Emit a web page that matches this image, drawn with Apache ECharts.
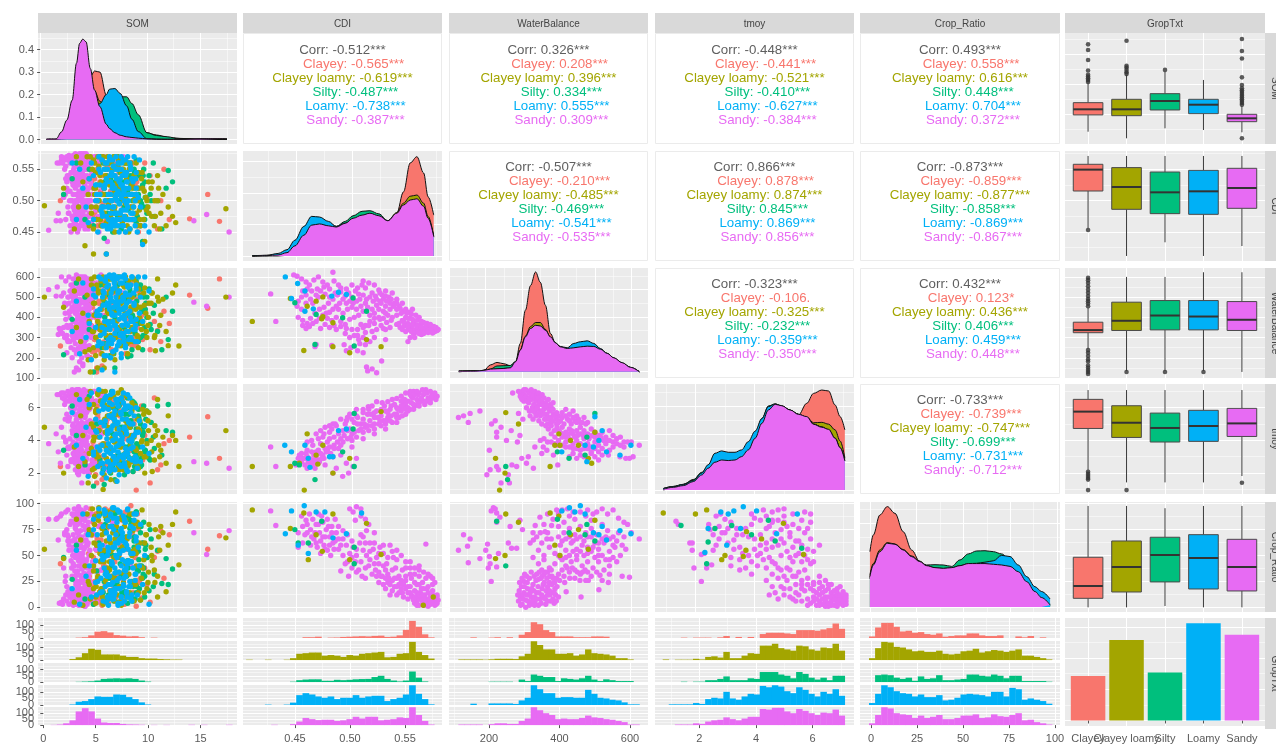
<!DOCTYPE html>
<html><head><meta charset="utf-8">
<style>html,body{margin:0;padding:0;background:#fff;overflow:hidden}#c{width:1276px;height:744px}</style>
<script src="https://cdn.jsdelivr.net/npm/echarts@6/dist/echarts.min.js"></script>
</head><body><div id="c"></div>
<script>
// ---------- labels ----------
const varNames = ['SOM','CDI','WaterBalance','tmoy','Crop_Ratio','GropTxt'];
const groupNames = ['Clayey','Clayey loamy','Silty','Loamy','Sandy'];
const groupColors = ['#F8766D','#A3A500','#00BF7D','#00B0F6','#E76BF3'];

// ---------- correlation texts: overall, then the five groups ----------
const corrSomCdi  = ['-0.512***','-0.565***','-0.619***','-0.487***','-0.738***','-0.387***'];
const corrSomWb   = ['0.326***','0.208***','0.396***','0.334***','0.555***','0.309***'];
const corrSomTmoy = ['-0.448***','-0.441***','-0.521***','-0.410***','-0.627***','-0.384***'];
const corrSomCrop = ['0.493***','0.558***','0.616***','0.448***','0.704***','0.372***'];
const corrCdiWb   = ['-0.507***','-0.210***','-0.485***','-0.469***','-0.541***','-0.535***'];
const corrCdiTmoy = ['0.866***','0.878***','0.874***','0.845***','0.869***','0.856***'];
const corrCdiCrop = ['-0.873***','-0.859***','-0.877***','-0.858***','-0.869***','-0.867***'];
const corrWbTmoy  = ['-0.323***','-0.106.','-0.325***','-0.232***','-0.359***','-0.350***'];
const corrWbCrop  = ['0.432***','0.123*','0.436***','0.406***','0.459***','0.448***'];
const corrTmoyCrop= ['-0.733***','-0.739***','-0.747***','-0.699***','-0.731***','-0.712***'];

// ---------- density curves ----------
const densSomX = [.6,1.5,2,2.5,3,3.4,3.7,4,4.3,4.7,5.1,5.6,6.2,6.5,7,7.5,8.1,8.6,9.2,10,10.9,11.9,13.1,15,17.5];
const densSomClayey = [0,0,.01,.02,.05,.1,.15,.2,.23,.279,.305,.3,.197,.13,.09,.08,.06,.05,.03,.01,.004,.002,.001,.004,.003];
const densSomCL = [0,0,.01,.02,.04,.08,.12,.18,.22,.257,.215,.17,.13,.12,.11,.1,.08,.07,.05,.03,.02,.01,.005,.002,.001];
const densSomSilty = [0,0,0,.005,.01,.02,.03,.05,.07,.09,.11,.13,.15,.16,.175,.19,.19,.16,.11,.03,.018,.012,.002,.002,.001];
const densSomLoamy = [0,0,.005,.01,.02,.04,.06,.08,.1,.12,.14,.16,.2,.224,.227,.205,.15,.09,.035,.004,.002,.001,.001,0,0];
const densSomSandy = [.003,.003,.034,.086,.175,.339,.428,.447,.435,.316,.22,.146,.068,.049,.03,.019,.012,.009,.006,.003,.001,.001,.001,.003,.003];

const densCdiX = [.411,.424,.434,.442,.449,.457,.464,.471,.479,.486,.494,.501,.509,.516,.524,.532,.54,.546,.552,.558,.564,.568,.573];
const densCdiClayey = [0,0,0,.1,.6,1.5,2.2,3,3.5,3.8,4,4.5,5,5.5,5.8,5.4,6.8,10.2,14.8,15.8,13.2,9.4,6.5];
const densCdiCL = [.05,.1,.2,.5,1.6,3.4,4.9,5.3,5,4.6,5.2,6,6.5,6.7,6.3,5.6,6.9,8.4,9.5,9.7,8.4,6.3,3.2];
const densCdiSilty = [0,.05,.2,.6,1.8,3.5,5,5.6,5.3,4.7,5.5,6.4,7.1,7.2,6.7,5.6,6.6,7.9,8.7,9,7.7,5.8,3];
const densCdiLoamy = [0,.1,.4,1,2.5,4.7,6.3,6.2,5.5,4.7,5.2,5.9,6.4,6.7,6.3,5.5,6.6,7.9,8.6,8.9,7.6,5.7,3];
const densCdiSandy = [0,.05,.16,.53,1.6,3.3,4.9,5.1,4.8,4.6,5.2,6,6.5,6.8,6.4,5.6,6.8,8.1,8.9,9.1,7.9,6,3.1];

const densWbX = [126,172,195,213,231,250,268,282,295,309,323,337,350,364,378,392,405,424,442,460,479,497,515,534,552,575,598,622];
const densWbClayey = [0,.05,.1,.5,.68,.58,.44,.73,2.07,4.5,6.3,7.3,6.55,4.86,2.79,2.07,1.75,1.5,1.2,1,.8,.7,.6,.5,.4,.3,.2,0];
const densWbCL = [.05,.05,.1,.15,.2,.25,.3,.7,1.6,2.6,3.3,3.6,3.6,3.1,2.5,2.1,1.8,1.65,1.7,1.8,1.8,1.8,1.6,1.3,1,.6,.3,0];
const densWbSilty = [.05,.05,.1,.2,.42,.44,.46,.75,1.5,2.5,3.1,3.35,3.3,3,2.5,2.1,1.8,1.7,1.75,1.9,1.9,1.85,1.6,1.3,1,.6,.3,0];
const densWbLoamy = [0,.05,.1,.15,.2,.24,.28,.7,1.55,2.5,3.1,3.35,3.3,3,2.5,2.1,1.85,1.75,2.07,2.19,2.26,2.07,1.7,1.35,1,.65,.32,0];
const densWbSandy = [.05,.05,.1,.19,.22,.24,.29,.73,1.58,2.55,3.16,3.4,3.35,3.04,2.55,2.11,1.82,1.7,1.75,1.82,1.87,1.85,1.65,1.34,1.02,.66,.32,0];

const densTmoyX = [.91,1.25,1.59,1.93,2.21,2.43,2.66,2.89,3.11,3.34,3.56,3.79,4.02,4.25,4.47,4.7,4.92,5.21,5.49,5.77,6,6.28,6.51,6.73,6.9,7.06];
const densTmoyClayey = [0,.1,.2,.4,.8,1.2,1.6,1.8,1.9,2,2.2,2.6,3.3,4.2,5,5.4,5.3,5.4,5.36,6.19,6.9,7.14,7.07,6.07,5.24,4.29];
const densTmoyCL = [.1,.25,.4,.75,1.2,1.65,2,2.2,2.2,2.2,2.4,2.9,3.7,4.8,5.7,6.1,6,5.7,5.4,5.2,4.8,4.83,4.7,4.29,3.5,2.3];
const densTmoySilty = [.1,.25,.4,.72,1.26,1.7,2.1,2.3,2.4,2.5,2.6,3,3.95,5.1,6,6.15,6,5.7,5.4,5.2,4.7,4.5,4.3,3.7,3,2.2];
const densTmoyLoamy = [.1,.22,.38,.68,1.2,1.8,2.62,2.79,2.69,2.69,2.86,3.45,4.2,5.1,5.95,6.14,6,5.7,5.4,5.2,4.7,4.5,4.3,3.7,3,2.1];
const densTmoySandy = [.05,.19,.31,.6,1.07,1.55,1.98,2.14,2.1,2.14,2.38,2.86,3.69,4.76,5.71,6.12,6.02,5.71,5.4,5.24,4.69,4.48,4.33,3.69,3.02,2.07];

const densCropX = [0,1.8,5.3,9.3,13.4,17.8,22.3,26.7,30.3,34.8,39.2,43.7,48.1,52.6,57,61.5,66,70.4,74.9,79.3,83.8,88.2,91.8,96.3];
const densCropClayey = [3.95,5.14,6.57,7.17,6.69,5.38,4.07,3.24,2.95,2.7,2.6,2.5,2.4,2.3,2.2,2.2,2.1,2,1.9,1.7,1.3,.9,.5,.1];
const densCropCL = [2.3,3.1,4.07,4.6,4.5,4.1,3.65,3.28,2.9,2.7,2.7,2.75,2.9,3,3,3,3,2.95,2.85,2.5,1.8,1.1,.65,.12];
const densCropSilty = [2,2.9,3.8,4.4,4.4,4,3.6,3.2,3,3.02,3,2.9,3.36,3.79,4,4.02,3.95,3.79,3.36,2.5,1.9,1.15,.75,.2];
const densCropLoamy = [2.1,2.95,3.9,4.5,4.45,4.05,3.6,3.2,2.95,2.8,2.75,2.8,2.95,3.1,3.12,3.2,3.3,3.69,3.6,3,2.17,1.45,1.1,.57];
const densCropSandy = [2.17,3,3.95,4.55,4.48,4.07,3.6,3.24,2.95,2.81,2.76,2.81,2.95,3.1,3.1,3.1,3.05,3,2.9,2.52,1.81,1.1,.67,.14];

// ---------- per-sample values for the SOM column ----------
const somSandy = [.8,1.5,1.6,1.7,1.8,1.9,2,2,2.1,2.2, 2.2,2.3,2.4,2.4,2.5,2.5,2.6,2.6,2.7,2.7, 2.8,2.8,2.9,2.9,3,3,3,3.1,3.1,3.1, 3.2,3.2,3.2,3.3,3.3,3.3,3.3,3.4,3.4,3.4, 3.4,3.5,3.5,3.5,3.5,3.6,3.6,3.6,3.6,3.7, 3.7,3.7,3.7,3.8,3.8,3.8,3.8,3.9,3.9,3.9, 3.9,4,4,4,4,4.1,4.1,4.1,4.2,4.2, 4.2,4.3,4.3,4.3,4.4,4.4,4.4,4.5,4.5,4.5, 4.6,4.6,4.7,4.7,4.8,4.8,4.9,5,5.1,5.2, 5.3,5.5,5.7,6,6.3,6.8,7.2,7.8,8.5,14.4, 15.6,17.7,
 2.3,2.5,2.7,2.8,2.9,3,3,3.1,3.1,3.2, 3.2,3.3,3.3,3.3,3.4,3.4,3.4,3.5,3.5,3.5, 3.5,3.6,3.6,3.6,3.7,3.7,3.7,3.7,3.8,3.8, 3.8,3.8,3.9,3.9,3.9,3.9,4,4,4,4, 4,4.1,4.1,4.1,4.1,4.2,4.2,4.2,4.2,4.3, 4.3,4.3,4.4,4.4,4.4,4.5,4.5,4.6,4.6,4.7, 2.4,2.6,2.9,3.2,3.6,3.9,4.2,4.5,4.8,5, 3.1,3.4,3.7,4,4.3,4.6,4.9,5.1,5.4,5.8,
 2.35,2.65,2.85,3.05,3.15,3.25,3.35,3.45,3.55,3.65, 3.75,3.85,3.95,4.05,4.15,4.25,4.35,4.45,4.55,4.65, 2.55,2.75,2.95,3.15,3.35,3.55,3.75,3.95,4.15,4.35, 3.05,3.25,3.45,3.65,3.85,4.05,4.25,4.45,4.65,4.85, 3.1,3.3,3.5,3.7,3.9,4.1,4.3,4.5,4.7,4.9];
const cdiSandy = [.453,.468,.56,.48,.56,.468,.565,.57,.56,.568, .505,.565,.47,.555,.57,.52,.565,.49,.572,.54, .46,.56,.57,.5,.53,.565,.475,.572,.51,.49, .57,.465,.545,.565,.5,.52,.48,.573,.46,.535, .495,.56,.51,.57,.47,.572,.525,.485,.455,.565, .5,.545,.47,.573,.515,.49,.555,.57,.465,.53, .505,.565,.48,.52,.572,.555,.5,.46,.57,.53, .485,.56,.51,.47,.572,.495,.54,.565,.455,.52, .57,.48,.55,.5,.57,.465,.56,.52,.57,.485, .565,.45,.56,.57,.435,.55,.565,.57,.56,.468, .478,.45,
 .55,.53,.48,.515,.45,.545,.5,.53,.475,.555, .49,.54,.465,.575,.51,.47,.555,.53,.485,.565, .45,.545,.505,.56,.49,.535,.475,.575,.515,.46, .545,.56,.485,.54,.51,.575,.47,.535,.55,.49, .56,.51,.475,.54,.575,.495,.525,.455,.55,.47, .535,.575,.515,.465,.55,.5,.57,.475,.535,.56, .535,.515,.545,.485,.54,.51,.55,.475,.525,.545, .525,.475,.545,.495,.56,.53,.51,.545,.475,.52,
 .51,.48,.535,.47,.55,.495,.525,.46,.545,.515, .48,.555,.5,.465,.54,.52,.49,.555,.475,.51, .54,.5,.46,.525,.555,.48,.51,.545,.47,.5, .565,.49,.53,.46,.55,.515,.475,.535,.5,.545, .525,.47,.5,.54,.485,.56,.46,.51,.53,.49];
const wbSandy = [537,505,550,315,345,335,600,505,320,350, 520,300,580,460,310,225,500,350,600,470, 400,530,560,250,440,340,200,590,480,290, 380,520,130,300,570,420,510,610,350,150, 470,540,240,390,590,330,450,520,140,570, 410,300,490,600,260,370,530,200,440,560, 330,480,580,170,390,510,290,550,420,240, 600,460,340,530,210,570,400,490,310,590, 440,260,550,360,580,300,480,520,340,430, 570,400,610,540,280,450,380,520,480,475, 455,500,
 470,360,420,280,530,310,450,380,560,240, 330,430,270,500,370,580,220,410,540,300, 470,360,600,250,440,320,520,180,390,560, 280,470,350,540,230,410,600,300,480,370, 160,520,440,330,570,260,400,500,350,590, 290,450,370,550,210,420,320,510,380,460, 390,280,430,340,520,310,470,360,410,500, 300,440,350,540,390,460,320,520,370,410,
 420,500,360,540,290,460,330,580,400,310, 520,370,440,240,560,300,480,340,410,530, 290,430,510,350,470,320,550,390,280,450, 500,340,420,560,270,480,360,440,320,400, 310,460,350,520,410,300,570,380,490,340];
const tmoySandy = [3.8,4.4,6.8,3.3,6.8,2.6,6.9,4.8,6.6,6.9, 4.2,6.5,3.9,6.7,6.4,3.1,7,2.4,6.8,5.2, 4.1,6.6,6.9,2.7,5.8,7.1,3.7,6.7,4.5,3.2, 6.9,3.5,5.6,7,2.2,4.8,6.3,7.1,2.9,5.3, 3.8,6.8,4.3,6.4,2,7.1,5,3.4,1.9,6.9, 2.6,5.7,4.1,7,4.6,3.6,6.2,6.8,1.4,5.1, 2.3,7,3.9,4.9,6.6,6.3,3,2.1,6.9,5.4, 4.4,6.5,2.8,3.7,7,4.2,5.8,6.7,2,5.1, 6.8,3.3,6,4.7,6.6,2.5,6.3,4.5,7,3.6, 6.4,2.4,6.7,6.9,2.2,5.5,6.2,6.6,5.9,2.7, 2.6,2.3,
 6.2,5.6,3.5,6.4,2.8,6.7,4.6,3.9,6.9,5.9, 3.1,6.1,4.5,2.6,6.6,3.6,5.2,6.9,2.4,4.7, 6.3,3.3,5.6,7.1,2.1,4.4,6.7,3,5.4,3.8, 6.5,2.7,4.9,7,3.4,5.8,6.1,4.2,2.3,6.8, 5,3.1,6.4,4.5,7.1,2.9,5.5,3.7,6.6,4, 2.5,6.2,5.1,3.4,6.9,4.6,2.2,5.9,3.2,6.7, 4,5.2,3.6,6,4.8,3.1,5.5,4.2,6.2,3.3, 5,2.8,4.4,5.7,3.8,6.3,4.9,2.6,5.2,4.4,
 5.3,3.6,6,4.4,2.9,6.5,3.4,5.6,4.1,6.2, 2.7,5,3.8,6.6,4.3,3.1,5.7,2.4,6.3,4.6, 3.5,5.4,2.8,6.1,4.2,3.2,5.8,4.7,6.8,2.9, 4.9,6.4,3.3,5.5,2.6,4.1,6,3.7,5.2,2.8, 6.7,4.3,3.4,5.9,2.5,5,3.9,6.2,4.5,3.2];
const cropSandy = [85,85,86,65,4,88,90,5,3,38, 8,70,12,92,6,75,15,94,3,60, 10,80,45,18,90,5,55,12,70,2, 40,95,8,3,78,30,14,88,50,6, 62,20,92,11,35,2,72,16,97,8, 48,25,82,6,58,13,90,3,28,68, 10,38,85,4,52,18,92,7,75,22, 1,44,14,78,9,60,3,30,88,12, 50,6,70,24,35,90,15,42,10,56, 5,78,36,60,8,82,50,26,40,72, 51,74,
 72,20,55,10,83,30,64,5,42,90, 16,76,26,48,7,88,34,58,14,80, 3,40,68,22,94,11,52,31,74,2, 60,18,86,37,4,66,24,92,46,12, 79,28,9,56,33,84,17,44,1,70, 21,96,38,13,62,6,82,27,50,15, 30,64,10,82,45,25,58,18,72,38, 8,52,85,28,65,12,44,70,34,55,
 25,68,12,50,82,35,6,74,20,58, 40,90,16,64,28,8,46,78,33,55, 70,14,38,88,22,60,4,48,84,30, 10,66,24,52,94,18,42,76,8,36, 58,26,72,12,44,86,20,62,34,6];

const somClayey = [1.9,3.5,3.9,4.2,4.4,4.6,4.7,4.8,4.9,5, 5,5.1,5.2,5.2,5.3,5.4,5.5,5.6,5.7,5.8, 6,6.1,6.3,6.5,6.7,6.9,7.2,7.5,7.8,8, 8.2,8.5,8.8,9,9.2,9.5,9.8,10,10.3,10.7, 11,11.3,11.6,12.1,14,15.7,16.8,
 4.5,4.7,4.9,5,5.1,5.2,5.3,5.4,5.5,5.6, 5.7,5.8,5.9,6,6.2,6.4,6.6,6.8,7,7.1, 7.3,7.5,7.7,7.9,8.1,8.3,8.5,8.7,8.9,9.1, 9.3,9.6,4.8,5.5,6.1,6.9,7.4,8,8.6,9.4,
 4.55,4.95,5.15,5.35,5.65,5.95,6.25,6.55,6.85,7.15, 7.45,7.85,8.25,8.65,9.05];
const cdiClayey = [.5,.56,.47,.55,.51,.57,.49,.53,.46,.565, .52,.48,.57,.5,.545,.46,.56,.53,.49,.57, .51,.475,.555,.5,.54,.465,.57,.52,.49,.45, .53,.56,.47,.51,.45,.54,.56,.505,.54,.5, .455,.5,.55,.47,.471,.51,.467,
 .52,.5,.545,.475,.535,.51,.56,.485,.55,.525, .465,.54,.495,.56,.47,.55,.515,.48,.56,.5, .535,.46,.55,.515,.47,.54,.49,.56,.525,.46, .5,.52,.54,.5,.53,.48,.545,.515,.47,.49,
 .5,.535,.475,.55,.515,.465,.54,.49,.56,.525, .48,.545,.51,.47,.53];
const wbClayey = [258,320,480,250,400,540,200,360,450,300, 570,230,420,510,130,380,470,340,560,160, 280,410,520,350,240,440,590,300,500,220, 400,330,450,260,530,410,345,470,240,380, 335,280,430,370,510,445,590,
 330,470,230,540,290,400,150,350,480,310, 220,440,370,560,280,500,200,420,340,590, 260,450,330,510,220,390,570,300,470,350, 530,290,410,240,380,520,310,450,260,400,
 390,300,510,250,440,340,560,280,470,380, 520,310,430,350,490];
const tmoyClayey = [2.4,5.5,6.6,3.2,6.9,2,4.6,6.2,3.6,5.1, 7,2.9,4.2,6.4,1.4,5.6,3.3,6.7,4.8,1.6, 6.1,3.8,5.3,2.6,6.7,4.4,3,5.8,2.2,4.1, 6.6,3.4,5,.96,2.5,6.1,4.3,3.2,1.4,6.6, 2.2,2.5,3.8,4,4.2,5.45,2.9,
 4.9,6.8,2.6,4.3,6.3,1.9,3.4,5.4,2.8,7, 4.5,3,6.1,1.8,5.1,3.5,6.6,2.4,4.2,5.7, 3.1,6.2,2.5,4.7,6.8,3.4,5.2,2.1,4.4,3.7, 5.9,2.8,6.4,4.7,2.3,5.3,3.9,6,2.7,4.6,
 5.9,3.9,2.9,6.1,3.7,5,2.5,4.5,6.4,3, 5.5,2.7,4.1,5.2,3.3];
const cropClayey = [42,12,85,5,60,30,95,18,70,3, 48,25,90,8,55,35,78,15,65,2, 40,22,88,50,10,72,30,60,6,92, 45,98,7,1,75,9,38,22,5,48, 54,74,28,70,83,56,69,
 32,8,70,20,88,45,12,62,28,5, 80,36,15,52,72,4,94,26,44,10, 66,20,84,3,56,32,76,14,48,90, 24,62,38,7,95,18,50,34,68,28,
 52,82,24,66,10,40,76,16,58,34, 86,6,44,70,26];

const somCL = [.4,2.2,3.2,3.4,3.6,3.8,4,4.2,4.4,4.5, 4.6,4.7,4.8,4.9,5,5,5.1,5.2,5.3,5.4, 5.5,5.6,5.7,5.8,5.9,6,6.1,6.2,6.3,6.4, 6.5,6.6,6.7,6.8,6.9,7,7.2,7.4,7.6,7.8, 8,8.2,8.4,8.6,8.8,9,9.2,9.4,9.6,9.8, 10,10.2,10.5,10.8,11,11.2,11.5,11.8,12,12.4, 12.7,13,17.4,
 4.6,4.8,5,5.1,5.2,5.3,5.4,5.5,5.6,5.7, 5.8,5.9,6,6,6.1,6.2,6.3,6.4,6.5,6.6, 6.7,6.8,6.9,7,7.1,7.2,7.3,7.4,7.5,7.6, 7.7,7.8,7.9,8,8.1,8.2,8.3,8.4,8.5,8.6, 8.7,8.8,8.9,9,9.1,9.2,9.3,9.5,9.7,9.9, 10.1,10.4,10.7,11,11.3,6.5,7,7.5,8,8.5,
 5.05,5.25,5.45,5.65,5.85,6.05,6.15,6.35,6.55,6.75, 6.95,7.15,7.35,7.55,7.75,7.95,8.15,8.35,8.55,8.75, 8.95,9.15,9.35,9.55,9.75,9.95,10.15,10.45,10.75,11.1];
const cdiCL = [.492,.52,.455,.57,.49,.56,.53,.428,.57,.51, .46,.57,.49,.55,.455,.415,.56,.52,.47,.57, .5,.54,.46,.565,.51,.48,.55,.415,.57,.495, .525,.46,.56,.485,.54,.45,.57,.51,.47,.55, .495,.56,.455,.53,.5,.48,.545,.46,.52,.435, .5,.48,.53,.475,.5,.455,.51,.46,.49,.475, .465,.502,.487,
 .535,.48,.565,.51,.545,.47,.5,.555,.485,.53, .46,.57,.52,.48,.54,.465,.56,.5,.53,.475, .55,.51,.57,.49,.46,.53,.555,.48,.52,.545, .465,.5,.56,.475,.535,.51,.45,.55,.49,.525, .47,.54,.505,.56,.46,.52,.485,.535,.47,.505, .49,.52,.46,.54,.48,.5,.515,.47,.54,.56,
 .52,.49,.545,.47,.51,.56,.5,.535,.46,.55, .485,.525,.565,.475,.54,.505,.46,.55,.52,.49, .535,.5,.47,.545,.515,.485,.53,.475,.5,.52];
const wbCL = [500,450,530,350,590,280,420,230,510,190, 380,130,560,330,470,250,600,300,540,150, 410,340,580,220,490,150,560,310,430,260, 520,380,300,590,450,190,540,350,470,320, 600,410,280,500,340,570,250,450,380,545, 300,470,520,235,590,360,490,330,260,520, 560,258,500,
 240,590,330,470,210,560,380,280,530,440, 320,600,190,500,360,590,270,420,540,310, 480,220,380,570,300,460,340,600,260,510, 400,290,550,360,470,220,580,330,430,500, 280,590,370,460,310,540,400,340,520,420, 360,470,300,500,410,590,420,500,330,450,
 410,300,520,360,460,250,570,340,440,290, 530,380,480,310,560,420,270,500,350,590, 440,300,510,370,460,330,400,520,310,480];
const tmoyCL = [4.8,2,3.6,6.8,2.4,5.5,4.3,2.7,6.5,1.4, 3.2,7,5,2.2,6.2,4,1.8,5.8,3,6.9, 4.6,2.5,6.4,3.7,1,5.2,7,2.9,4.4,6, 3.4,1.6,5.6,2.7,6.7,3.9,4.9,2.2,7.1,3.1, 5.3,2.4,4.1,6.3,3.5,2.6,4.7,3.2,5.9,2, 3.8,5.7,2.1,4.3,6.5,3,4.2,2.6,5.5,4.3, 4,2.4,4.6,
 6,3.5,4.8,2.3,5.7,3.3,6.8,4.2,2.6,5.1, 7,3.8,1.9,6.2,4.5,2.9,5.5,3.4,6.6,2.1, 4.1,6.1,3,5,1.5,4.7,6.9,2.8,5.6,3.6, 6.4,2.2,4.4,5.2,3.1,6.7,2.5,4.8,3.7,5.8, 2.9,4.2,6.1,3.4,5.3,2.3,4.6,3.9,5.6,3, 5.2,4,2.8,4.6,3.4,6.3,5,3.6,4.4,2.7,
 4.2,5.9,3,6.4,2.5,5.3,3.6,4.8,6.1,2.8, 3.9,5.6,2.4,4.5,6.7,3.2,5,2.7,4.3,6, 3.5,2.6,5.2,4,3,5.8,4.6,3.3,4.9,3.7];
const cropCL = [56,47,5,85,12,65,2,40,90,25, 75,8,50,95,18,35,80,4,60,28, 92,15,45,70,3,55,88,22,38,78, 10,62,30,95,48,6,72,20,85,33, 42,68,14,90,25,52,78,7,38,62, 18,80,45,75,30,55,72,15,60,80, 92,41,67,
 22,70,40,88,10,60,30,96,52,18, 76,4,44,92,26,64,8,84,36,54, 16,72,94,28,48,12,66,34,86,2, 58,24,78,42,10,68,32,90,20,50, 74,6,56,40,82,14,62,28,46,70, 24,58,36,10,78,44,66,20,84,52,
 62,20,84,44,10,72,36,92,16,56, 28,78,48,6,88,32,66,12,54,80, 22,60,40,94,14,70,34,50,24,68];

const somSilty = [2.2,3,3.4,4.2,4.6,5,5.3,5.6,5.8,6, 6.2,6.4,6.5,6.7,6.8,7,7.1,7.3,7.4,7.6, 7.7,7.9,8,8.2,8.3,8.5,8.6,8.8,9,9.2, 9.4,9.6,9.8,10,10.3,10.6,11,11.4,11.8,12, 12.4,
 5.5,5.9,6.1,6.3,6.6,6.9,7,7.2,7.4,7.5, 7.7,7.8,8,8.1,8.2,8.4,8.5,8.7,8.8,8.9, 9,9.1,9.2,9.3,9.4,9.5,9.6,9.7,9.8,9.9, 10,10.2,10.4,10.7,6,6.8,7.6,8.3,9,9.7,
 6.05,6.45,6.85,7.25,7.65,7.95,8.25,8.45,8.65,8.85, 9.05,9.25,9.45,9.65,9.85];
const cdiSilty = [.51,.535,.56,.47,.55,.46,.525,.57,.49,.44, .54,.47,.56,.5,.45,.53,.48,.57,.515,.455, .545,.49,.505,.56,.47,.525,.51,.55,.465,.54, .5,.435,.53,.49,.51,.56,.5,.455,.52,.548, .53,
 .5,.56,.51,.48,.535,.57,.46,.52,.5,.545, .475,.53,.56,.49,.515,.455,.54,.48,.52,.5, .565,.475,.51,.54,.46,.495,.525,.55,.47,.505, .48,.54,.5,.475,.52,.465,.5,.535,.51,.49,
 .53,.49,.55,.475,.51,.56,.485,.535,.5,.545, .47,.52,.49,.54,.505];
const wbSilty = [215,390,570,500,340,130,420,560,250,480, 300,590,210,380,530,150,440,600,320,260, 490,350,570,205,410,520,240,460,380,560, 300,430,310,500,365,420,330,240,500,290, 430,
 360,520,270,440,590,220,400,500,340,270, 440,600,300,490,360,540,210,400,510,320, 580,450,280,370,560,430,240,500,350,470, 400,540,340,460,560,420,500,300,370,440,
 400,510,300,560,360,450,280,520,410,330, 480,380,540,310,440];
const tmoySilty = [3.4,6.1,4.3,2.5,6.7,1.2,5,2.8,6.4,1.3, 3.7,5.5,2.3,7,4.4,1.6,5.9,3.2,6.3,2.6, 4.8,1.9,3.6,6,2.7,5.2,4,6.3,3,5.5, 2.4,4.4,3.3,5.8,2.8,4.2,6.1,3.1,4.6,6.2, 4.5,
 4.6,2.2,6.6,3.5,2,5.4,4,2.9,6.1,4.8, 3.1,5.7,2.4,4.4,6.6,3.7,5,2.1,3.3,6.2, 4.7,2.7,5.9,3.6,5,2.5,4.3,6.1,3.4,5.3, 4,2.9,5.1,3.5,6.2,2.4,4.6,5.6,3.1,4.8,
 5,3.3,6,2.6,4.3,5.6,3,4.8,6.4,2.4, 3.8,5.4,2.9,4.5,3.4];
const cropSilty = [48,27,60,8,72,3,35,90,18,52, 85,12,65,40,95,22,75,5,55,30, 88,15,68,45,10,80,25,58,92,35, 7,62,30,48,75,20,55,23,47,22, 37,
 62,14,80,34,52,6,90,24,70,42, 12,58,86,30,4,76,44,20,64,8, 92,36,54,18,72,40,28,82,10,60, 48,16,66,32,25,78,56,88,14,38,
 74,28,50,92,14,60,38,84,6,68, 20,46,78,32,56];

const somLoamy = [3,3.4,3.7,4,4.3,4.5,4.8,5,5.2,5.4, 5.5,5.6,5.8,5.9,6,6.1,6.2,6.3,6.4,6.5, 6.6,6.6,6.7,6.8,6.8,6.9,7,7,7.1,7.2, 7.2,7.3,7.4,7.4,7.5,7.6,7.6,7.7,7.8,7.8, 7.9,8,8,8.1,8.2,8.3,8.4,8.5,8.6,8.7, 8.8,8.9,9,9.1,9.2,9.3,9.4,9.6,9.8,10.2,
 4.6,5,5.3,5.5,5.7,5.8,5.9,6,6,6.1, 6.2,6.2,6.3,6.3,6.4,6.4,6.5,6.5,6.6,6.6, 6.7,6.7,6.8,6.8,6.9,6.9,7,7,7.1,7.1, 7.2,7.2,7.3,7.3,7.4,7.4,7.5,7.5,7.6,7.6, 7.7,7.7,7.8,7.8,7.9,7.9,8,8,8.1,8.1, 8.2,8.2,8.3,8.4,8.5,8.6,8.7,8.8,8.9,9, 5.6,6.1,6.6,7,7.5,8,8.5,9,5.2,5.8,
 5.35,5.65,5.85,6.05,6.25,6.35,6.45,6.55,6.65,6.75, 6.85,6.95,7.05,7.15,7.25,7.35,7.45,7.55,7.65,7.75, 7.85,7.95,8.05,8.15,8.25,8.35,8.45,8.55,8.75,8.95];
const cdiLoamy = [.56,.47,.55,.52,.49,.465,.56,.54,.5,.45, .57,.525,.48,.46,.55,.5,.415,.53,.47,.57, .51,.455,.54,.49,.565,.46,.52,.48,.55,.5, .47,.56,.53,.45,.51,.57,.485,.54,.46,.52, .5,.565,.47,.545,.49,.51,.455,.55,.535,.48, .57,.46,.52,.45,.505,.565,.49,.43,.46,.45,
 .535,.47,.51,.55,.485,.565,.46,.52,.49,.56, .475,.535,.455,.55,.51,.49,.565,.46,.53,.48, .545,.5,.47,.525,.555,.49,.465,.54,.51,.57, .48,.55,.46,.515,.56,.495,.47,.535,.55,.505, .46,.525,.485,.565,.51,.475,.54,.45,.53,.495, .57,.47,.52,.56,.48,.51,.53,.47,.5,.545, .51,.46,.5,.54,.48,.52,.47,.51,.525,.49,
 .5,.545,.475,.525,.56,.49,.51,.54,.465,.52, .555,.48,.505,.535,.47,.55,.495,.525,.56,.46, .515,.545,.485,.53,.5,.47,.555,.51,.49,.535];
const wbLoamy = [330,480,220,570,300,410,190,510,350,260, 600,440,140,530,320,580,210,460,370,610, 300,500,420,590,230,360,550,130,470,600, 340,520,390,280,570,440,200,600,320,490, 410,590,260,510,360,550,430,300,600,380, 470,340,560,280,600,420,500,380,600,530,
 370,540,410,280,590,350,460,210,520,340, 600,250,470,380,560,290,440,350,600,200, 480,270,540,380,450,610,320,410,500,240, 590,340,460,530,270,420,600,310,480,220, 570,360,440,300,610,390,520,250,470,330, 550,420,290,510,380,600,340,460,280,540, 410,580,490,360,310,450,560,390,500,270,
 430,310,500,380,550,270,460,340,520,410, 290,570,360,480,260,440,530,320,400,500, 280,450,370,560,330,480,400,290,520,360];
const tmoyLoamy = [5.7,3.7,6.5,2.9,4.8,1.8,6.9,3.3,5.3,2.4, 7.1,4.2,2,5.9,3.1,6.6,1.7,4.6,2.7,5.5, 3.6,6.8,2.2,4.9,7,3.4,5.8,2.6,4.1,6.3, 1.5,5.1,3,6.5,4.4,2.4,5.6,3.8,6.9,2.9, 4.7,6.1,3.2,5.3,2.1,4,6.6,3.5,2.8,5, 4.3,3,6,2.3,4.5,5.2,2.7,3.6,4.9,3.2,
 6.2,3.1,4.5,5.8,2.6,3.7,6.4,4.9,2.3,5.2, 6.7,3.4,4.4,2.7,5.9,3.8,2.1,6.3,4.6,3.2, 5.4,2.5,6.9,4,3,5.6,4.3,2.2,6.5,3.6, 5,2.8,6.1,3.3,4.7,1.9,5.7,3.9,6.6,2.4, 4.2,5.3,3,6.3,2.6,4.8,3.5,5.9,2.2,4.4, 6.8,3.2,5.1,2.9,6,4.1,3.6,5.5,2.7,4.5, 3.4,6.5,2.5,5.2,4,3.1,5.7,2.9,4.6,6.2,
 3.6,5.1,2.6,6,4.1,3.3,5.5,2.3,4.7,6.2, 3,5.3,2.8,4.4,6.5,3.7,2.5,5.7,4,3.1, 5.9,2.4,4.6,3.4,6.1,2.9,5,3.9,4.3,2.7];
const cropLoamy = [18,55,3,90,30,70,10,85,45,25, 95,60,15,78,38,92,5,50,22,68, 88,12,42,96,8,75,33,58,18,82, 48,2,65,28,92,40,10,72,55,20, 85,35,62,15,95,45,25,78,6,52, 90,32,68,12,58,40,80,22,50,3,
 40,75,12,88,28,60,6,48,94,20, 72,34,10,84,54,2,66,30,90,16, 44,78,24,58,8,96,38,14,70,50, 26,86,4,62,34,92,18,54,76,10, 46,68,22,88,36,6,82,30,60,14, 94,42,20,72,52,12,38,84,26,64, 56,32,78,18,66,44,8,90,24,50,
 70,14,46,90,30,58,8,78,22,42, 86,12,62,34,94,18,52,74,4,64, 28,82,38,10,56,68,20,44,76,32];

// ---------- pairs (x,y,x,y,...) read per panel ----------
const cdiWbSandy = [.4274,516,.432,380,.448,610,.451,603,.455,590,.459,575,.462,560,.466,585,.47,600,.474,575,.478,560,.469,540,.464,530,.459,510,.455,500,.452,480,.451,455,.455,440,.459,470,.463,490,.468,510,.472,530,.476,515,.48,540,.484,580,.488,560,.483,623,.452,400,.456,385,.46,370,.463,395,.467,420,.471,440,.475,450,.479,470,.483,490,.487,510,.49,525,.494,505,.497,520,.5,500,.503,530,.506,515,.509,560,.512,545,.515,570,.518,520,.521,505,.524,535,.527,510,.53,530,.533,500,.536,520,.54,490,.538,470,.542,455,.545,470,.548,440,.551,425,.554,440,.557,410,.56,400,.552,395,.548,400,.545,385,.55,370,.555,375,.558,360,.561,365,.564,375,.567,370,.57,350,.573,345,.576,335,.572,330,.568,345,.565,330,.561,340,.558,345,.555,320,.552,300,.55,280,.556,300,.562,315,.566,350,.56,350,.553,350,.547,360,.543,350,.54,365,.535,385,.531,375,.528,395,.524,400,.52,370,.516,380,.512,360,.508,365,.526,360,.534,350,.53,340,.478,395,.482,385,.486,400,.49,380,.494,365,.498,390,.502,400,.506,410,.51,430,.514,450,.518,440,.522,460,.526,470,.53,455,.534,440,.486,340,.49,355,.494,320,.498,300,.502,310,.506,290,.51,300,.507,270,.512,265,.516,280,.52,300,.493,265,.499,250,.505,235,.51,225,.495,235,.513,155,.518,145,.514,135,.522,126,.5265,184,.53,290,.468,266,.467,255,.482,261,
 .55,340,.553,330,.556,335,.559,325,.562,330,.565,345,.568,335,.571,340,.574,330,.577,340,.55,360,.554,365,.558,355,.562,350,.566,360,.57,365,.573,355,.575,350,.56,320,.564,320,.568,325,.572,322,.548,330,.545,340,.542,370,.546,380,.55,395,.554,390,.558,385,.562,380,.553,415,.549,420,.546,430,.543,445,.54,440,.537,455,.534,470,.531,480,.528,490,.525,480,.522,490,.519,480,.516,500,.513,490,.51,510,.507,490,.504,480,.501,470,.498,480,.495,470,.492,490,.489,470,.486,455,.483,440,.48,425,.477,420,.474,410,.471,395,.468,380,.465,370,.462,355,.459,345,.456,360,.476,365,.48,350,.484,360,.472,345,.488,440,.492,420,.496,440,.5,450,.504,440,.508,455,.512,470,.516,410,.52,420,.524,440,.528,430,.532,410,.536,400,.54,410,.544,420,.47,500,.465,470,.46,540,.456,530,.475,550,.48,500,.485,520,.49,545,.495,540,.5,560,.505,545,.51,580,.52,560,.525,520,.53,505,.535,490,.54,470,.53,420,.525,390,.52,395,.515,360,.51,350,.505,340,.5,340,.495,345,.505,310,.512,325,.518,330,.522,340,.528,345];
const cdiWbCL = [.411,380,.445,493,.457,236,.483,255,.498,225,.513,290,.526,255,.46,455,.468,480,.473,393,.474,403,.474,501,.483,373];
const cdiWbSilty = [.449,472,.468,414,.467,266,.4917,398,.502,258,.501,496,.513,430];
const cdiWbLoamy = [.4405,600,.4515,567,.446,493,.458,530,.458,430,.4655,442,.488,524,.482,505,.495,513];

const cdiTmoySandy = [.4274,3.6,.432,2.4,.452,2.9,.455,2.7,.458,2.5,.46,2.3,.462,2.9,.464,3.3,.466,2.6,.468,3,.47,3.4,.472,3.8,.474,4.2,.476,3.5,.478,3.9,.48,4.5,.482,4.7,.484,4.2,.486,4.9,.488,4.4,.49,4.1,.492,4.6,.494,5,.496,5.4,.498,4.7,.5,4.4,.502,5.1,.504,5.5,.506,4.6,.508,5,.51,5.3,.512,4.8,.514,5.6,.516,5.2,.518,4.9,.52,5.4,.522,5.8,.524,5,.526,5.5,.528,5.2,.53,5.8,.532,5.4,.534,5.9,.536,5.1,.538,5.6,.54,6,.542,5.4,.544,5.8,.546,6.2,.548,5.6,.55,6.4,.552,5.9,.554,6.6,.556,6.1,.558,6.5,.56,6.9,.562,6.4,.564,6.8,.566,7.1,.568,6.6,.57,7,.572,6.8,.574,6.6,.576,6.7,.555,7,.56,6.3,.565,6.4,.57,6.5,.567,6.9,.563,7.1,.559,6.8,.553,6.3,.548,6.2,.544,6.4,.54,6.57,.532,6.37,.522,6.37,.5146,6.06,.552,7,.483,5,.498,5.6,.483,3,.5,4,.515,4.6,.53,5,.545,6,.483,2,.4917,1.8,.497,2,.501,2.4,.504,2.9,.495,2.6,.486,2.3,.45,2.5,.453,3.1,.456,2.9,.459,3.2,.462,2.4,.465,2.8,.468,3.3,.471,2.7,.474,3.1,.477,3.3,.48,3.6,.46,3.9,.464,4,.468,4.4,.472,4.6,.476,4.8,.48,4.1,.484,3.7,.488,3.5,.492,3.9,.496,4.1,.504,4.2,.51,4.5,.52,5,.526,4.9,.534,5.2,.54,5.4,.548,5.9,.555,6.2,
 .46,3,.463,2.6,.466,3.1,.469,2.8,.472,3.2,.475,2.9,.478,3.4,.481,3.2,.484,3.5,.487,3.9,.49,3.7,.493,4.3,.496,4.6,.499,4.2,.502,4.5,.505,5,.508,4.7,.511,5,.514,4.9,.517,5.6,.52,5.7,.523,5.4,.526,5.9,.529,6.1,.532,5.7,.535,6.1,.538,6.2,.541,5.9,.544,6.1,.547,6.5,.55,6,.553,6.7,.556,6.8,.559,6.3,.562,6.6,.565,6.9,.568,6.4,.571,6.7,.574,6.9,.55,5.8,.545,5.5,.54,5.6,.535,5.5,.53,5.2,.525,5.2,.52,4.7,.515,5.9,.51,5.7,.505,5.4,.5,5.3,.495,5.2,.49,5.3,.485,5,.48,4.9,.475,4.4,.47,4.1,.465,3.7,.46,3.4,.455,3.2,.452,2.6,.458,2.9,.461,2.7,.464,2.4,.467,2.3,.47,2.6,.473,2.9,.476,2.5,.49,3.1,.5,3.6,.51,4.1,.52,4.4,.53,4.7,.54,5.1,.555,5.9,.56,6.1,.565,6.2,.57,6.3,.575,6.5,.558,7,.552,6.8,.548,6.9,.544,6.7,.536,6.5,.527,6.3,.518,6.1,.51,5.9,.504,5.9];
const cdiTmoyCL = [.411,2.4,.445,2.4,.4574,.96,.46,4.4,.474,3.7,.468,3.1,.483,2,.498,2.9,.526,5.76,.453,2.6,.4695,2.55];
const cdiTmoySilty = [.467,1.6,.449,2.6,.4917,3.3,.502,2.4,.501,4.7,.502,5.65,.453,2.5];
const cdiTmoyLoamy = [.44,3.7,.446,3.3,.458,3.7,.461,2.9,.4625,2.35,.48,3,.488,4.6,.483,3,.495,4.7];

const cdiCropSandy = [.432,79,.4274,93,.452,58,.456,62,.452,72,.456,78,.459,84,.462,90,.465,85,.468,80,.471,72,.474,82,.477,75,.48,68,.483,62,.486,72,.463,60,.466,66,.469,58,.472,52,.475,60,.478,55,.481,50,.484,56,.46,72,.455,88,.458,70,.47,90,.474,68,.478,85,.482,78,.485,85,.488,66,.49,60,.492,74,.498,95,.501,92,.504,97,.508,95,.512,85,.508,88,.503,84,.515,80,.52,72,.513,74,.51,68,.495,60,.498,52,.501,58,.504,50,.507,62,.51,55,.513,50,.516,62,.519,56,.522,48,.525,58,.528,52,.531,42,.534,60,.537,48,.54,55,.49,35,.494,42,.497,30,.5,38,.503,44,.506,36,.509,30,.512,28,.515,40,.518,32,.521,36,.524,42,.527,30,.53,36,.533,28,.536,26,.539,38,.542,30,.545,36,.548,38,.552,44,.556,38,.56,40,.566,61,.53,18,.534,12,.538,20,.542,22,.545,14,.548,26,.55,20,.553,28,.556,16,.558,22,.56,30,.563,24,.566,28,.57,30,.572,22,.55,8,.553,12,.556,4,.559,10,.561,14,.563,6,.565,12,.567,18,.569,8,.571,12,.573,4,.575,8,.577,7,.564,2,.568,1,.572,6,.56,2,.574,10,.566,8,.57,3,.576,4,.562,18,.558,6,.552,20,.546,10,.54,12,.568,14,.558,14,
 .46,80,.463,75,.467,72,.47,80,.473,88,.476,68,.479,78,.482,72,.485,64,.488,56,.464,68,.468,62,.472,64,.476,56,.48,60,.484,66,.488,78,.492,66,.496,70,.5,64,.504,56,.508,70,.512,62,.516,54,.52,62,.524,52,.528,60,.532,48,.536,54,.54,46,.544,50,.548,44,.552,38,.556,32,.56,36,.564,34,.568,32,.572,28,.574,24,.492,50,.496,44,.5,48,.504,34,.508,44,.512,38,.516,46,.52,42,.524,34,.528,40,.532,32,.536,36,.54,28,.544,26,.548,30,.552,32,.556,24,.56,22,.564,18,.568,20,.572,16,.576,12,.554,10,.558,2,.56,8,.562,10,.564,8,.566,4,.568,6,.57,10,.572,12,.574,2,.576,10,.552,14,.55,14,.548,18,.546,22,.544,18,.542,14,.54,20,.538,28,.536,16,.534,22,.532,24,.53,28,.528,22,.526,30,.524,24,.522,30,.556,10,.56,12,.563,12,.567,2,.571,4,.575,3,.565,6,.569,3,.555,7];
const cdiCropCL = [.411,94,.457,91,.445,76,.468,70,.4735,54,.461,46,.483,90,.498,46,.526,51,.513,81,.5637,2,.5726,10];
const cdiCropSilty = [.449,75,.452,62,.461,62,.502,58,.502,42,.473,83];
const cdiCropLoamy = [.4405,71,.446,93,.4574,98,.452,60,.461,52,.468,92,.4758,92,.483,67,.495,71,.5086,91];

const wbTmoySandy = [125,5.4,139,5.5,157,5.65,152,5.1,184,5.8,216,5,226,5.2,230,4.5,230,4.2,242,4.8,257,4,270,4.6,290,5.65,294,4.3,287,3.9,302,5.3,210,3.4,299,2.9,317,3,312,2.6,331,2.3,285,2.4,272,2.5,230,2.4,212,2.2,203,1.9,262,1.9,265,1.4,242,1.4,235,2.2,335,3.6,354,3.2,368,3.4,386,3.1,398,2.5,274,6.9,290,7,295,6.9,300,7,305,6.8,310,7.1,315,7,320,6.9,325,7.1,330,6.9,335,7,340,6.8,345,6.9,350,6.7,355,6.8,298,6.6,305,6.4,312,6.6,318,6.3,325,6.5,332,6.2,340,6.4,347,6.2,353,6.4,360,6.6,365,6.3,372,6.5,378,6.2,385,6.3,312,6,320,5.8,328,6,336,5.7,344,5.9,352,5.7,360,5.9,368,5.6,376,5.8,322,5.5,330,5.3,338,5.5,346,5.2,354,5,362,5.3,370,5,378,5.4,386,5.6,394,5.3,400,5.5,410,5.7,420,5.9,430,5.6,440,5.8,450,5.5,395,5,405,5.2,415,5,425,5.3,435,5,445,5.2,455,5.3,465,5.1,475,5,400,4.6,410,4.8,420,4.5,430,4.7,440,4.4,450,4.6,460,4.8,470,4.6,480,4.4,490,4.7,500,4.5,510,4.3,520,4.5,530,4.2,540,4.6,550,4.3,560,4.1,570,4.2,580,3.9,590,3.9,600,3.9,622,3.7,380,4.4,390,4.2,400,4,410,4.2,420,3.9,430,4.1,440,3.8,450,4,460,3.8,470,4.1,480,3.8,490,3.6,500,3.9,510,3.7,520,3.5,530,3.8,540,3.4,550,3.6,460,3.1,470,3,480,2.9,490,3.2,500,3,510,2.8,520,3.1,430,3,440,3.2,450,2.9,585,2.9,595,2.9,605,3,537,3.1,569,3,
 295,6.7,300,6.5,305,7.1,310,6.7,315,6.4,320,6.6,325,6.8,330,6.7,335,6.5,340,6.6,345,6.6,350,6.4,355,6.2,360,6.1,365,6,370,6.1,375,5.9,380,6,385,5.9,330,5.8,335,6.1,340,6,345,5.6,350,5.5,355,5.8,360,5.6,365,5.3,370,5.4,375,5.3,380,5.1,385,5.2,390,5.5,395,5.7,400,5.1,410,5.4,420,5.5,430,5.2,440,5.4,450,5.1,460,5.1,470,5.4,480,5.1,365,4.9,372,4.7,380,4.9,388,4.6,396,4.8,404,4.5,412,4.4,420,4.2,428,4.4,436,4.6,444,4.2,452,4.3,460,4.4,468,4.3,476,4.2,484,4.1,492,4.3,500,4.2,508,4.1,516,4.2,524,4,532,4,540,4,550,3.9,560,3.8,570,3.7,580,3.6,480,3.5,490,3.3,500,3.5,510,3.3,470,3.5,460,3.4,450,3.5,440,3.5,430,3.6,420,3.6,410,3.7,400,3.7,390,3.8,380,3.9,370,3.9,360,4.1,350,4,358,3.6];
const wbTmoyCL = [255,5.7,290,5,227,2.9,253,2,238,.96,401,4.4,377,2.4,433,4,455,3.7,390,3.7,404,3.7,482,2.9,491,2.6,500,4.5];
const wbTmoySilty = [255,2.4,260,1.6,397,3.3,429,2.9,473,3.1,478,4.2,500,5.65];
const wbTmoyLoamy = [520,4.6,511,4,473,3.7,532,3.3,496,3.6,569,3.1,599,3.7,409,3.3,478,2.7,500,5.45];

const wbCropSandy = [221,96,226,95,215,93,230,91,239,87,230,82,267,78,294,84,301,75,139,70,157,66,150,59,125,55,152,43,184,47,205,61,200,55,210,49,212,42,207,38,230,39,215,25,235,52,262,62,285,57,271,57,336,79,349,87,381,79,322,62,331,65,354,62,363,73,368,66,370,90,385,85,400,90,415,82,430,88,445,85,460,92,475,88,490,84,505,92,520,95,535,90,550,94,565,86,580,82,400,78,415,72,430,76,445,70,460,78,475,72,490,76,505,70,520,80,535,74,550,68,565,72,580,68,622,66,345,55,360,50,375,58,390,52,405,60,420,55,435,62,450,56,465,60,480,52,495,58,510,50,525,62,540,54,555,58,570,50,330,48,345,42,360,46,375,38,390,42,405,48,420,40,435,44,450,46,465,40,480,44,495,38,510,44,525,36,540,40,355,30,370,34,385,28,400,32,415,30,430,34,445,28,460,32,475,26,490,30,505,34,520,26,540,32,575,30,595,29,514,31,537,24,511,17,462,10,421,15,482,26,290,6,295,10,300,3,305,14,310,7,315,18,320,2,325,10,330,22,335,5,340,14,345,27,350,8,355,18,360,32,365,3,370,12,375,24,380,36,385,8,390,18,395,28,298,20,305,25,312,30,318,12,325,34,332,16,338,26,345,2,352,28,358,22,364,34,370,20,376,30,382,14,388,4,300,12,310,0,322,4,334,10,344,20,354,12,366,16,378,6,392,12,
 288,12,292,16,296,2,302,8,306,20,312,12,316,6,322,14,328,6,334,2,340,8,346,14,352,4,358,10,364,8,370,6,376,12,382,22,388,14,394,6,400,10,293,24,300,28,307,32,314,24,320,28,326,18,333,30,340,32,347,34,354,36,361,24,368,28,375,16,382,30,389,24,396,20,403,26,410,36,417,24,424,38,431,28,438,38,445,36,452,34,459,26,466,34,473,36,480,34,400,50,410,46,420,48,430,50,440,54,450,50,460,54,470,50,480,58,490,54,500,48,510,56,520,50,530,46,540,46,550,48,560,44,400,68,410,64,420,66,430,68,440,64,450,66,460,68,470,64,480,68,490,68,500,62,510,62,520,66,530,68,540,66,550,60,560,64,575,60,585,56,590,80,600,72,380,66,370,72,360,80,350,72,340,68,330,72,395,94,410,94,425,95,440,92,480,94,495,90];
const wbCropCL = [255,90,290,82,227,47,253,50,401,88,377,91,433,70,455,75,390,60,404,50,482,56,500,84];
const wbCropSilty = [255,40,230,83,397,85,429,72,473,70,478,80,500,64];
const wbCropLoamy = [520,78,511,70,473,90,532,65,496,72,569,74,599,71,409,93,430,96,445,92,460,98];

const tmoyCropSandy = [1.34,83,1.42,80,1.81,62,1.89,62,1.89,55,2.2,51,1.95,38,2.2,25,2.38,38,2.55,41,2.3,52,2.6,70,2.5,75,2.45,80,2.7,88,2.85,90,3,85,3.1,76,2.9,72,2.8,66,2.7,60,2.6,55,3.1,62,3.3,65,3.5,58,3.4,70,3.7,76,3.9,80,4,86,4.2,84,4.4,88,4.6,92,4.8,94,5,95,4.5,78,4.7,72,4.9,75,5.1,78,5.3,80,3.2,48,3.5,46,3.8,50,4,56,4.2,60,4.4,62,4.6,58,4.9,66,5.2,68,5.5,76,5.7,72,5.9,66,5.6,84,5.9,82,3.7,38,3.9,32,4.1,40,4.3,46,4.5,48,4.7,42,4.9,50,5.1,54,5.3,58,5.5,52,5.7,50,5.9,42,5.1,38,5.3,44,4.6,32,4.8,28,4.4,26,4.6,20,4.9,20,5.1,26,5.3,30,5.5,34,5.7,36,6,44,6.2,60,4.7,14,5,12,5.2,18,5.4,22,5.6,26,5.8,28,6,24,6.2,30,5.3,8,5.5,12,5.7,16,5.9,18,6.1,14,6.3,20,6.5,18,5.6,6,5.8,8,6,10,6.2,6,6.4,10,6.6,14,6.8,18,6.9,20,7,15,6.4,4,6.6,6,6.8,8,7,10,7.1,12,6.1,2,6.3,3,6.5,1,6.7,2,6.9,4,7.1,6,7,2,5.9,4,5.4,14,6.2,12,6.7,11,6.5,22,6.8,12,4.9,36,
 4.5,12,4.8,8,5,18,5.2,10,5.4,6,5.6,18,5.8,2,6,16,6,6,6.1,8,6.2,18,6.3,8,6.4,16,6.4,7,6.5,10,6.5,4,6.6,10,6.6,2,6.7,7,6.7,16,6.8,4,6.8,14,6.9,8,6.9,12,7,6,7,13,7.1,9,7.1,3,6.2,2,6.4,1,6.8,1,6,22,6.2,24,6.4,26,6.6,22,6.3,14,5.8,22,5.6,22,5.4,30,5.2,36,5,30,4.8,38,4.6,44,4.4,38,4.2,52,4.4,56,4.6,66,4.8,60,5,62,5.2,48,5.4,50,5.6,44,5.8,46,6,54,5.8,56,5.6,60,5.4,64,5.2,72,5,82,4.8,84,4.6,82,4.4,76,4.2,70,4,66,3.8,68,3.6,70,3.4,76,3.2,82,3,72,2.8,78,3.3,56,3.6,52,3.9,44,4.1,50,3.5,36,3.2,40,5.5,64,5.8,76,5.9,90,5.7,92,5.3,90,5,88,4.6,84,4.3,94,3.9,90];
const tmoyCropCL = [.91,91,2,90,2.38,94,3,50,2.89,46,3.62,49,3.71,55,3.73,73,4.24,66,4.98,81,5.66,51];
const tmoyCropSilty = [1.51,79,2.38,42,2.43,63,2.66,76,3.23,79,4.47,84,4.7,64,5.6,57,3.9,70];
const tmoyCropLoamy = [2.86,92,3.11,90,3.3,93,3.62,97,4.07,93,5.45,90,2.43,76,2.32,53,3.06,60,3.53,76,4.75,71];

// ---------- histograms: 30 bins per panel ----------
const binsSom  = [.1, .597];
const binsCdi  = [.4055, .0057];
const binsWb   = [112.9, 17.12];
const binsTmoy = [.707, .2141];
const binsCrop = [-1.12, 3.315];

const histSomClayey = [0,0,0,0,0,3,6,20,48,52,42,22,18,12,14,6,0,3,0,0,0,0,0,0,0,0,0,0,0,0];
const histSomCL     = [0,0,0,0,8,22,55,90,82,45,45,45,35,25,25,15,12,12,8,6,4,4,0,0,0,0,0,0,0,0];
const histSomSilty  = [0,0,0,0,0,2,4,6,12,25,28,30,28,30,25,12,4,0,0,0,0,0,0,0,0,0,0,0,0,0];
const histSomLoamy  = [0,0,0,0,4,25,30,45,65,62,62,80,78,60,45,20,4,0,0,0,0,0,0,0,0,0,0,0,0,0];
const histSomSandy  = [0,2,5,15,40,115,142,115,55,22,18,18,10,6,5,3,0,2,0,2,0,0,0,3,0,3,0,0,0,3];

const histCdiClayey = [0,0,0,0,0,0,0,0,0,6,6,10,0,3,4,8,10,12,14,12,16,18,8,10,20,62,130,85,28,5];
const histCdiCL     = [3,0,0,3,0,0,3,15,50,55,60,60,35,40,35,25,40,35,50,55,60,65,22,25,50,55,145,65,40,12];
const histCdiSilty  = [0,0,0,0,0,0,0,3,15,20,22,22,10,10,18,15,18,22,24,25,40,50,25,12,5,12,84,35,5,0];
const histCdiLoamy  = [0,0,0,3,0,0,3,18,75,90,80,65,55,65,45,55,55,75,55,65,70,70,30,45,55,80,150,85,45,5];
const histCdiSandy  = [0,0,0,0,3,0,0,8,30,60,50,42,45,45,35,40,50,70,55,70,70,40,45,50,65,60,150,85,35,5];

const histWbClayey  = [0,0,5,0,0,3,6,0,6,0,25,45,120,105,60,45,12,12,12,6,6,6,12,12,10,0,0,0,0,0];
const histWbCL      = [5,5,5,5,3,6,10,10,10,8,30,50,150,120,85,85,50,50,55,35,45,85,55,50,45,35,15,15,5,0];
const histWbSilty   = [0,0,0,0,0,3,3,3,3,0,20,8,60,50,40,40,8,30,25,20,30,50,20,8,22,15,8,8,8,0];
const histWbLoamy   = [0,0,10,0,0,12,12,12,12,8,35,55,150,120,90,90,55,60,60,55,55,115,85,55,50,40,35,20,5,5];
const histWbSandy   = [5,5,5,5,0,8,15,15,10,10,35,55,150,125,100,85,50,55,50,50,60,80,65,60,50,45,35,25,5,5];

const histTmoyClayey= [0,0,0,3,0,3,3,3,0,5,15,0,8,0,8,0,30,40,40,40,35,30,60,60,60,55,65,75,110,70];
const histTmoyCL    = [5,0,3,3,3,10,5,25,30,20,65,15,15,35,55,50,115,115,130,95,85,75,115,110,85,75,100,95,130,75];
const histTmoySilty = [0,0,0,3,0,3,3,15,15,25,45,15,15,15,30,25,80,80,80,60,50,30,80,65,35,20,35,15,50,50];
const histTmoyLoamy = [0,5,5,5,5,15,8,45,55,50,100,50,40,65,85,80,145,135,150,140,105,90,135,115,85,65,100,85,120,70];
const histTmoySandy = [0,0,5,5,5,15,10,30,40,45,65,50,40,55,70,70,135,130,145,145,115,100,135,120,100,85,105,100,130,80];

const histCropClayey= [12,80,115,115,85,50,55,40,45,30,25,35,10,15,20,20,35,35,20,15,15,20,0,0,12,5,15,0,5,0];
const histCropCL    = [15,95,145,140,105,100,85,70,75,65,65,75,50,45,50,70,75,90,60,70,80,75,65,75,85,35,35,25,15,5];
const histCropSilty = [0,55,60,55,35,25,35,10,45,25,30,55,15,15,20,25,60,60,50,45,60,50,30,50,50,8,8,8,8,3];
const histCropLoamy = [15,85,150,135,105,90,85,65,80,60,60,75,35,40,55,80,85,80,75,65,100,100,65,130,120,40,50,40,30,10];
const histCropSandy = [15,85,150,140,100,90,85,60,80,60,70,85,50,50,60,80,80,90,60,65,90,75,70,85,100,40,45,25,15,5];

// ---------- box plots: [low whisker, q1, median, q3, high whisker] per group, then outliers ----------
const boxSom = [[2.1,4.9,5.83,6.94,10.16],[1,4.77,5.83,7.5,11.55],[2.66,5.72,7.22,8.44,12.1],[2.38,5.1,6.6,7.5,10.72],[2,3.77,4.33,5,6.38]];
const outSom = [[10.4,10.7,11,11.3,11.6,12.3,14.05,15.72,16.66],[11.7,12,12.4,12.8,13.1,17.27],[12.4],[],[1,6.6,6.9,7.2,7.5,7.8,8.1,8.4,8.7,9,9.33,9.88,11.16,14.3,15.55,17.55]];
const boxCdi = [[.456,.5154,.5495,.558,.5713],[.4118,.4862,.5218,.5527,.5713],[.4336,.4793,.5133,.5457,.5713],[.4118,.4782,.5149,.5484,.5713],[.4277,.4878,.5202,.5516,.5713]];
const outCdi = [[.4532],[],[],[],[]];
const boxWb = [[245,324,337,376,447],[135,335,383,475,600],[135,338,409,483,600],[135,338,404,483,623],[130,335,388,478,623]];
const outWb = [[595,584,570,554,537,521,505,491,480,468,455,238,225,209,192,181,162,151,139,130,120],[130],[130],[130],[]];
const boxTmoy = [[2.18,4.73,5.76,6.51,7.08],[1.43,4.18,5.08,6.12,7.08],[1.43,3.9,4.76,5.67,7.08],[1.43,3.94,4.88,5.84,7.08],[1.82,4.24,5.04,5.96,7.08]];
const outTmoy = [[2.08,1.95,1.82,1.7,1.6,.96],[.96],[],[],[1.41]];
const boxCrop = [[0,8.7,20.6,48.3,97.8],[0,14.8,38.9,64,97.8],[1.3,24.5,50.5,67.6,95.6],[0,17.7,47.6,70.1,97.8],[0,15.8,38.9,65.6,97.8]];
const outCrop = [[],[],[],[],[]];

// ---------- group counts ----------
const groupCounts = [285,517,308,625,550];

// ---------- axis ticks ----------
const ticksSom = [[0,5,10,15],[2.5,7.5,12.5,17.5]];
const ticksCdi = [[.45,.5,.55],[.425,.475,.525,.575]];
const ticksWbX = [[100,200,300,400,500,600],[150,250,350,450,550]];
const ticksWbHistX = [[200,400,600],[100,300,500]];
const ticksWbY = [[100,200,300,400,500,600],[150,250,350,450,550]];
const ticksTmoy = [[2,4,6],[1,3,5,7]];
const ticksCrop = [[0,25,50,75,100],[12.5,37.5,62.5,87.5]];
const ticksDensSom = [[0,.1,.2,.3,.4],[.05,.15,.25,.35,.45]];
const ticksDensCdi = [[0,5,10,15],[2.5,7.5,12.5]];
const ticksDensOther = [[0,2,4,6],[1,3,5,7]];
const ticksHistY = [[0,50,100],[25,75,125]];
const ticksBoxSom = [[5,10,15],[2.5,7.5,12.5,17.5]];
const ticksCount = [[0,200,400,600],[100,300,500]];
const ticksGroup = [[1,2,3,4,5],[]];

// ---------- scales ----------
const xDomains = [[-.2,18.44],[.4027,.5804],[99,646],[.63,7.37],[-5.3,101.6]];
const xHistDomains = [[-.505,18.47],[.4027,.5836],[86.5,651],[.436,7.46],[-6,102.7]];
const yDomains = [[-.02,.474],[.4038,.5792],[100,644],[.72,7.45],[-4.5,101.6]];
const yBoxSom = [.05,18.55];
const yDensDomains = [[-.02,.474],[-.8,16.7],[-.46,7.59],[-.29,7.57],[-.36,7.5]];
const yHist = [-7.5,152];
const yCount = [-35.6,658];
const xGroup = [.4,5.6];

// ---------- page geometry ----------
const colL = [38,243,449,655,860,1065], colR = [237,442,648,854,1060,1265];
const rowT = [33,151,268,384,502], rowB = [144,261,378,494,612];
const subT = [618,641,663,685,707], subB = [639,661,683,706,729];
const lastT = 618, lastB = 729;
const FONT = '"Liberation Sans", Arial, sans-serif';
const AXCOL = '#5a5a5a';

const grids=[], xAxes=[], yAxes=[], series=[], graphics=[];
const xFmt = [v=>v, v=>v.toFixed(2), v=>v, v=>v, v=>v, v=>groupNames[v-1]];
const yFmt = [v=>v.toFixed(1), v=>v.toFixed(2), v=>v, v=>v, v=>v];

function axis(idx, dom, vals, width, tick, fmt, pos, margin){
  return {gridIndex:idx, type:'value', min:dom[0], max:dom[1], position:pos,
    axisLine:{show:false},
    axisTick:{show:tick, length:3, lineStyle:{color:'#555',width:1}, customValues:vals},
    axisLabel:{show:!!fmt, customValues:vals, formatter:fmt||undefined, color:AXCOL, fontSize:11, fontFamily:FONT, margin:margin, hideOverlap:false, showMinLabel:true, showMaxLabel:true},
    splitLine:{show:vals.length>0, lineStyle:{color:'#fff',width:width}}, minorSplitLine:{show:false}, minorTick:{show:false}};
}
// an extra axis that only carries labels the main axis drops where they crowd each other
function labelAxis(idx, dom, vals, fmt, pos, margin){
  const a=axis(idx,dom,vals,1,false,fmt,pos,margin);
  a.splitLine={show:false};
  return a;
}
function panel(l,t,r,b,xd,yd,xt,yt,xf,yf){
  const g=grids.length;
  grids.push({left:l,top:t,width:r-l,height:b-t,show:true,backgroundColor:'#EBEBEB',borderWidth:0,containLabel:false});
  const xi=xAxes.length;
  xAxes.push(axis(g,xd,xt[0],1.1,!!xf,xf,'bottom',7));
  xAxes.push(axis(g,xd,xt[1],.5,false,null,'top',0));
  const yi=yAxes.length;
  yAxes.push(axis(g,yd,yt[0],1.1,!!yf,yf,'left',4));
  yAxes.push(axis(g,yd,yt[1],.5,false,null,'right',0));
  return {xAxisIndex:xi,yAxisIndex:yi,grid:g};
}
const zip=(a,b)=>{const o=[];for(let i=0;i<Math.min(a.length,b.length);i++)o.push([a[i],b[i]]);return o;};
const pairs=f=>{const o=[];for(let i=0;i+1<f.length;i+=2)o.push([f[i],f[i+1]]);return o;};
const axRef=a=>({xAxisIndex:a.xAxisIndex,yAxisIndex:a.yAxisIndex});

function density(ax,xs,curves){
  curves.forEach((c,i)=>series.push({type:'line',...axRef(ax),data:zip(xs,c),smooth:.35,smoothMonotone:'x',symbol:'none',silent:true,
    lineStyle:{color:'#111',width:1},areaStyle:{color:groupColors[i],opacity:1},z:2+i,clip:true}));
}
function dots(ax,sets,order){
  order.forEach((g,k)=>{ if(!sets[g]) return;
    series.push({type:'scatter',...axRef(ax),data:sets[g],symbol:'circle',symbolSize:5.4,silent:true,
      itemStyle:{color:groupColors[g],opacity:1},z:2+k,large:false,clip:true});});
}
function hist(ax,bins,vals,g){
  const data=vals.map((v,k)=>[bins[0]+k*bins[1],bins[0]+(k+1)*bins[1],v]).filter(d=>d[2]>0);
  series.push({type:'custom',...axRef(ax),data,encode:{x:[0,1],y:2},silent:true,clip:true,z:3,
    renderItem:(p,api)=>{
      const a=api.coord([api.value(0),api.value(2)]), b=api.coord([api.value(1),0]);
      return {type:'rect',shape:{x:a[0],y:a[1],width:b[0]-a[0]+.4,height:b[1]-a[1]},style:{fill:groupColors[g]}};
    }});
}
function boxes(ax,box,out){
  const data=box.map((b,i)=>[i+1,...b]);
  series.push({type:'custom',...axRef(ax),data,encode:{x:0,y:[1,2,3,4,5]},silent:true,clip:true,z:3,
    renderItem:(p,api)=>{
      const x=api.value(0), hw=.385, col=groupColors[x-1];
      const lo=api.coord([x,api.value(1)]),q1=api.coord([x,api.value(2)]),md=api.coord([x,api.value(3)]),q3=api.coord([x,api.value(4)]),hi=api.coord([x,api.value(5)]);
      const L=api.coord([x-hw,api.value(3)])[0],R=api.coord([x+hw,api.value(3)])[0];
      const line={stroke:'#3a3a3a',lineWidth:1};
      return {type:'group',children:[
        {type:'line',shape:{x1:lo[0],y1:lo[1],x2:q1[0],y2:q1[1]},style:line},
        {type:'line',shape:{x1:q3[0],y1:q3[1],x2:hi[0],y2:hi[1]},style:line},
        {type:'rect',shape:{x:L,y:q3[1],width:R-L,height:q1[1]-q3[1]},style:{fill:col,stroke:'#4a4a4a',lineWidth:1}},
        {type:'line',shape:{x1:L,y1:md[1],x2:R,y2:md[1]},style:{stroke:'#333',lineWidth:2}}
      ]};
    }});
  const pts=[]; out.forEach((o,i)=>o.forEach(v=>pts.push([i+1,v])));
  if(pts.length) series.push({type:'scatter',...axRef(ax),data:pts,symbol:'circle',symbolSize:4.6,silent:true,itemStyle:{color:'#333'},z:4});
}
function corrPanel(c,r,vals){
  const l=colL[c],t=rowT[r],w=colR[c]-l,h=rowB[r]-t;
  graphics.push({type:'rect',shape:{x:l+.5,y:t+.5,width:w-1,height:h-1},style:{fill:'#fff',stroke:'#EBEBEB',lineWidth:1},silent:true});
  const cx=l+w/2, cy=t+h/2-3.5;
  const maxLen=Math.max(...groupNames.map(n=>n.length));
  const lines=['Corr: '+vals[0]].concat(groupNames.map((n,i)=>' '.repeat(maxLen-n.length)+n+': '+vals[i+1]));
  const cols=['#5f5f5f'].concat(groupColors);
  lines.forEach((s,i)=>graphics.push({type:'text',silent:true,style:{text:s,x:cx,y:cy+14*(i-2.5),fill:cols[i],font:'13.3px '+FONT,textAlign:'center',textVerticalAlign:'middle'}}));
}

// strips
varNames.forEach((n,c)=>{
  graphics.push({type:'rect',silent:true,shape:{x:colL[c],y:13,width:colR[c]-colL[c],height:20},style:{fill:'#D9D9D9'}});
  graphics.push({type:'text',silent:true,style:{text:n,x:(colL[c]+colR[c])/2,y:24.5,fill:'#444',font:'10px '+FONT,textAlign:'center',textVerticalAlign:'middle'}});
});
const stripT=rowT.concat([lastT]), stripB=rowB.concat([lastB]);
varNames.forEach((n,r)=>{
  graphics.push({type:'rect',silent:true,shape:{x:1265,y:stripT[r],width:20,height:stripB[r]-stripT[r]},style:{fill:'#D9D9D9'}});
  graphics.push({type:'text',silent:true,rotation:-Math.PI/2,x:1275,y:(stripT[r]+stripB[r])/2,style:{text:n,x:0,y:0,fill:'#444',font:'10px '+FONT,textAlign:'center',textVerticalAlign:'middle'}});
});

// correlation panels
[[1,0,corrSomCdi],[2,0,corrSomWb],[3,0,corrSomTmoy],[4,0,corrSomCrop],[2,1,corrCdiWb],[3,1,corrCdiTmoy],[4,1,corrCdiCrop],[3,2,corrWbTmoy],[4,2,corrWbCrop],[4,3,corrTmoyCrop]].forEach(a=>corrPanel(...a));

const xTicks=[ticksSom,ticksCdi,ticksWbX,ticksTmoy,ticksCrop];
const yTicks=[ticksDensSom,ticksCdi,ticksWbY,ticksTmoy,ticksCrop];
const densTicks=[ticksDensSom,ticksDensCdi,ticksDensOther,ticksDensOther,ticksDensOther];

// density diagonal
[[densSomX,[densSomClayey,densSomCL,densSomSilty,densSomLoamy,densSomSandy]],
 [densCdiX,[densCdiClayey,densCdiCL,densCdiSilty,densCdiLoamy,densCdiSandy]],
 [densWbX,[densWbClayey,densWbCL,densWbSilty,densWbLoamy,densWbSandy]],
 [densTmoyX,[densTmoyClayey,densTmoyCL,densTmoySilty,densTmoyLoamy,densTmoySandy]],
 [densCropX,[densCropClayey,densCropCL,densCropSilty,densCropLoamy,densCropSandy]]
].forEach((d,i)=>{
  const ax=panel(colL[i],rowT[i],colR[i],rowB[i],xDomains[i],yDensDomains[i],xTicks[i],densTicks[i],null,i===0?yFmt[0]:null);
  density(ax,d[0],d[1]);
});

// SOM column scatter
const somRows=[null,[cdiClayey,cdiCL,cdiSilty,cdiLoamy,cdiSandy],[wbClayey,wbCL,wbSilty,wbLoamy,wbSandy],[tmoyClayey,tmoyCL,tmoySilty,tmoyLoamy,tmoySandy],[cropClayey,cropCL,cropSilty,cropLoamy,cropSandy]];
const somXs=[somClayey,somCL,somSilty,somLoamy,somSandy];
for(let r=1;r<5;r++){
  const ax=panel(colL[0],rowT[r],colR[0],rowB[r],xDomains[0],yDomains[r],xTicks[0],yTicks[r],null,yFmt[r]);
  dots(ax,somXs.map((x,g)=>zip(x,somRows[r][g])),[0,4,2,1,3]);
}
// remaining scatter panels [col,row,[clayey,cl,silty,loamy,sandy]]
[[1,2,[null,cdiWbCL,cdiWbSilty,cdiWbLoamy,cdiWbSandy]],
 [1,3,[null,cdiTmoyCL,cdiTmoySilty,cdiTmoyLoamy,cdiTmoySandy]],
 [1,4,[null,cdiCropCL,cdiCropSilty,cdiCropLoamy,cdiCropSandy]],
 [2,3,[null,wbTmoyCL,wbTmoySilty,wbTmoyLoamy,wbTmoySandy]],
 [2,4,[null,wbCropCL,wbCropSilty,wbCropLoamy,wbCropSandy]],
 [3,4,[null,tmoyCropCL,tmoyCropSilty,tmoyCropLoamy,tmoyCropSandy]]
].forEach(([c,r,s])=>{
  const ax=panel(colL[c],rowT[r],colR[c],rowB[r],xDomains[c],yDomains[r],xTicks[c],yTicks[r],null,null);
  dots(ax,s.map(f=>f?pairs(f):null),[4,1,2,3]);
});

// box plots in the last column
[[yBoxSom,ticksBoxSom,boxSom,outSom],[yDomains[1],ticksCdi,boxCdi,outCdi],[yDomains[2],ticksWbY,boxWb,outWb],[yDomains[3],ticksTmoy,boxTmoy,outTmoy],[yDomains[4],ticksCrop,boxCrop,outCrop]].forEach((d,r)=>{
  const ax=panel(colL[5],rowT[r],colR[5],rowB[r],xGroup,d[0],ticksGroup,d[1],null,null);
  boxes(ax,d[2],d[3]);
});

// histograms in the bottom row
const histAll=[[binsSom,[histSomClayey,histSomCL,histSomSilty,histSomLoamy,histSomSandy]],[binsCdi,[histCdiClayey,histCdiCL,histCdiSilty,histCdiLoamy,histCdiSandy]],[binsWb,[histWbClayey,histWbCL,histWbSilty,histWbLoamy,histWbSandy]],[binsTmoy,[histTmoyClayey,histTmoyCL,histTmoySilty,histTmoyLoamy,histTmoySandy]],[binsCrop,[histCropClayey,histCropCL,histCropSilty,histCropLoamy,histCropSandy]]];
const histXTicks=[ticksSom,ticksCdi,ticksWbHistX,ticksTmoy,ticksCrop];
histAll.forEach((h,c)=>{
  for(let g=0;g<5;g++){
    const ax=panel(colL[c],subT[g],colR[c],subB[g],xHistDomains[c],yHist,histXTicks[c],ticksHistY,g===4?xFmt[c]:null,c===0?(v=>v):null);
    hist(ax,h[0],h[1][g],g);
    if(c===0) yAxes.push(labelAxis(ax.grid,yHist,[50],v=>v,'left',4));
  }
});

// group counts
const axBar=panel(colL[5],lastT,colR[5],lastB,xGroup,yCount,ticksGroup,ticksCount,xFmt[5],null);
xAxes.push(labelAxis(axBar.grid,xGroup,[2],xFmt[5],'bottom',7));
series.push({type:'bar',...axRef(axBar),barWidth:34.5,silent:true,z:3,data:groupCounts.map((v,i)=>({value:[i+1,v],itemStyle:{color:groupColors[i]}}))});

const chart=echarts.init(document.getElementById('c'),null,{renderer:'canvas'});
chart.setOption({animation:false,backgroundColor:'#fff',grid:grids,xAxis:xAxes,yAxis:yAxes,series,graphic:{elements:graphics},tooltip:{show:false}});
</script></body></html>
